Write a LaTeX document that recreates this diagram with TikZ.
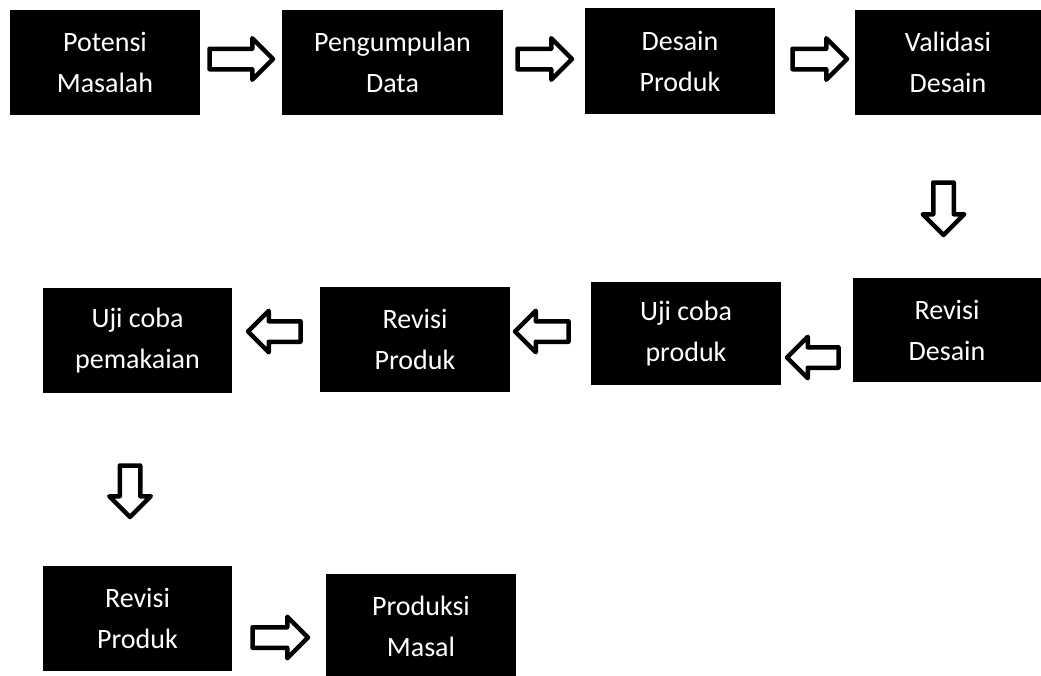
\documentclass[tikz,border=0pt]{standalone}
\usepackage{fontspec}
\setmainfont{Carlito}
\usetikzlibrary{shapes.arrows}
\begin{document}
\begin{tikzpicture}[x=1pt,y=-1pt,
  stepbox/.style={fill=black, text=white, inner sep=0pt, align=center,
    font=\fontsize{28}{41}\selectfont},
  blockarrow/.style={single arrow, draw=black, fill=white, line width=4.5pt,
    line join=round, inner sep=0pt, anchor=tail,
    minimum width=37pt, single arrow head extend=10.5pt, single arrow tip angle=90},
  toright/.style={blockarrow, text width=0pt, text height=8pt, text depth=8pt},
  toleft/.style={blockarrow, text width=0pt, text height=8pt, text depth=8pt,
    shape border rotate=180},
  todown/.style={blockarrow, text width=16pt, text height=0pt, text depth=0pt,
    shape border rotate=270}]
\useasboundingbox (0,0) rectangle (1041,675);
% row 1
\node[stepbox, minimum width=190pt, minimum height=105pt] (b1) at (105,62.5) {Potensi\\Masalah};
\node[stepbox, minimum width=221pt, minimum height=105pt] (b2) at (392.5,62.5) {Pengumpulan\\Data};
\node[stepbox, minimum width=190pt, minimum height=106pt] (b3) at (680,61) {Desain\\Produk};
\node[stepbox, minimum width=186pt, minimum height=105pt] (b4) at (948,62.5) {Validasi\\Desain};
% row 2
\node[stepbox, minimum width=188pt, minimum height=104pt] (b5) at (947,330) {Revisi\\Desain};
\node[stepbox, minimum width=190pt, minimum height=103pt] (b6) at (686,333.5) {Uji coba\\produk};
\node[stepbox, minimum width=190pt, minimum height=105pt] (b7) at (415,339.5) {Revisi\\Produk};
\node[stepbox, minimum width=189pt, minimum height=105pt] (b8) at (137.5,340.5) {Uji coba\\pemakaian};
% row 3
\node[stepbox, minimum width=189pt, minimum height=105pt] (b9) at (137.5,618.5) {Revisi\\Produk};
\node[stepbox, minimum width=190pt, minimum height=104pt] (b10) at (421,626) {Produksi\\Masal};
% block arrows (placed by their tails)
\node[toright, minimum height=63.5pt] (a1) at (207.25,59) {};
\node[toright, minimum height=54.5pt] (a2) at (515.25,59) {};
\node[toright, minimum height=54.5pt] (a3) at (790.25,59) {};
\node[todown, minimum height=52.5pt] (a4) at (943.5,180.25) {};
\node[toleft, minimum height=51.5pt] (a5) at (840.75,357.5) {};
\node[toleft, minimum height=53.5pt] (a6) at (570.75,331.5) {};
\node[toleft, minimum height=52.5pt] (a7) at (302.75,331.5) {};
\node[todown, minimum height=51.5pt] (a8) at (130,463.25) {};
\node[toright, minimum height=55.5pt] (a9) at (250.25,637.5) {};
\end{tikzpicture}
\end{document}
